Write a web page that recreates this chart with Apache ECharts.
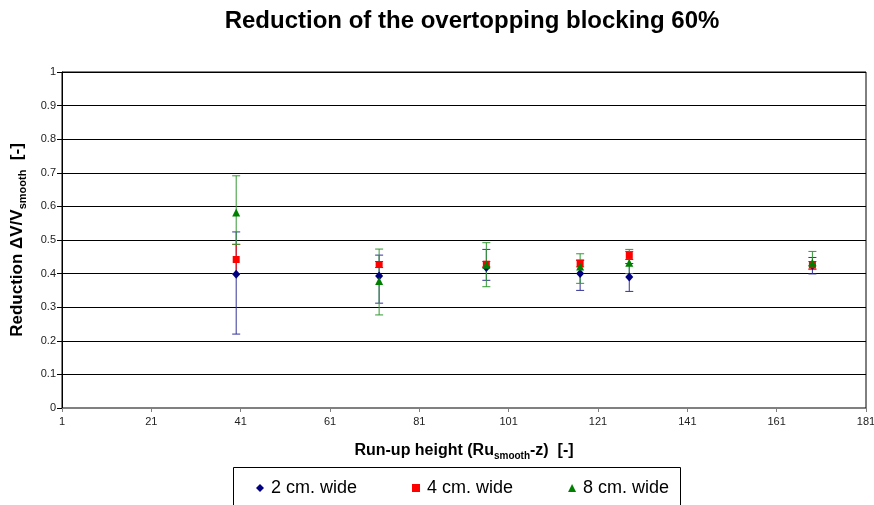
<!DOCTYPE html>
<html>
<head>
<meta charset="utf-8">
<script src="https://cdn.jsdelivr.net/npm/echarts@6/dist/echarts.min.js"></script>
<style>
  html, body { margin: 0; padding: 0; background: #fff; }
  #chart { width: 874px; height: 505px; }
</style>
</head>
<body>
<div id="chart"></div>
<script>
// Run-up heights at which the reductions were measured
const runUp = [40, 72, 96, 117, 128, 169];

// 2 cm. wide: mean reduction and error-bar range
const wide2 = [0.398, 0.393, 0.418, 0.400, 0.390, 0.424];
const wide2Low = [0.220, 0.312, 0.380, 0.350, 0.347, 0.399];
const wide2High = [0.524, 0.455, 0.472, 0.440, 0.430, 0.448];

// 4 cm. wide
const wide4 = [0.442, 0.427, 0.428, 0.430, 0.454, 0.426];
const wide4Low = [0.400, 0.418, 0.420, 0.420, 0.442, 0.414];
const wide4High = [0.487, 0.436, 0.436, 0.440, 0.466, 0.436];

// 8 cm. wide
const wide8 = [0.582, 0.378, 0.426, 0.421, 0.432, 0.432];
const wide8Low = [0.487, 0.277, 0.361, 0.371, 0.400, 0.412];
const wide8High = [0.691, 0.473, 0.492, 0.459, 0.472, 0.466];

const seriesNames = ['2 cm. wide', '4 cm. wide', '8 cm. wide'];
const xTicks = [1, 21, 41, 61, 81, 101, 121, 141, 161, 181];

const FONT = '"Liberation Sans", Arial, sans-serif';

function errorBarSeries(name, low, high, color) {
  return {
    type: 'custom',
    name: name,
    z: 2,
    silent: true,
    data: runUp.map((x, i) => [x, low[i], high[i]]),
    renderItem: function (params, api) {
      const p0 = api.coord([api.value(0), api.value(1)]);
      const p1 = api.coord([api.value(0), api.value(2)]);
      const cap = 4;
      const style = { stroke: color, lineWidth: 1 };
      return {
        type: 'group',
        children: [
          { type: 'line', shape: { x1: p0[0], y1: p0[1], x2: p1[0], y2: p1[1] }, style: style },
          { type: 'line', shape: { x1: p0[0] - cap, y1: p0[1], x2: p0[0] + cap, y2: p0[1] }, style: style },
          { type: 'line', shape: { x1: p1[0] - cap, y1: p1[1], x2: p1[0] + cap, y2: p1[1] }, style: style }
        ]
      };
    }
  };
}

function pointSeries(name, values, symbol, size, color) {
  return {
    type: 'scatter',
    name: name,
    z: 3,
    symbol: symbol,
    symbolSize: size,
    itemStyle: { color: color, opacity: 1 },
    data: runUp.map((x, i) => [x, values[i]])
  };
}

const chart = echarts.init(document.getElementById('chart'), null, { renderer: 'canvas' });

chart.setOption({
  animation: false,
  backgroundColor: '#fff',
  textStyle: { fontFamily: FONT },
  grid: {
    left: 62, right: 8, top: 72, bottom: 97,
    outerBoundsMode: 'none', containLabel: false,
    show: true, borderColor: '#000', borderWidth: 1, backgroundColor: 'transparent'
  },
  graphic: [
    {
      type: 'text', x: 472, y: 9, z: 10,
      style: {
        text: 'Reduction of the overtopping blocking 60%',
        font: 'bold 24px ' + FONT, fill: '#000', textAlign: 'center', textVerticalAlign: 'top'
      }
    },
    {
      type: 'rect', z: 0,
      shape: { x: 233.5, y: 467.5, width: 447, height: 60 },
      style: { fill: '#fff', stroke: '#000', lineWidth: 1 }
    }
  ],
  legend: {
    data: [
      { name: seriesNames[0], icon: 'diamond' },
      { name: seriesNames[1], icon: 'rect' },
      { name: seriesNames[2], icon: 'triangle' }
    ],
    left: 256, top: 479, z: 5, padding: 0,
    itemWidth: 8, itemHeight: 8, itemGap: 55,
    textStyle: { fontFamily: FONT, fontSize: 18, color: '#000', padding: [0, 0, 0, 2] }
  },
  xAxis: {
    type: 'value', min: 1, max: 181,
    axisLine: { onZero: false, lineStyle: { color: '#808080', width: 1 } },
    axisTick: { customValues: xTicks, length: 4, lineStyle: { color: '#808080' } },
    axisLabel: { customValues: xTicks, color: '#222', fontSize: 11, margin: 8, fontFamily: FONT },
    splitLine: { show: false },
    name: '{m|Run-up height (Ru}{s|smooth}{m|-z)  [-]}',
    nameLocation: 'middle', nameGap: 33,
    nameTextStyle: {
      rich: {
        m: { fontFamily: FONT, fontWeight: 'bold', fontSize: 16, color: '#000', lineHeight: 18, verticalAlign: 'bottom' },
        s: { fontFamily: FONT, fontWeight: 'bold', fontSize: 10, color: '#000', lineHeight: 18, verticalAlign: 'bottom', padding: [0, 0, -2, 0] }
      }
    }
  },
  yAxis: {
    type: 'value', min: 0, max: 1, interval: 0.1,
    axisLine: { show: true, lineStyle: { color: '#000', width: 1 } },
    axisTick: { show: true, length: 5, lineStyle: { color: '#000' } },
    axisLabel: { color: '#222', fontSize: 11, margin: 6, fontFamily: FONT },
    splitLine: { show: true, lineStyle: { color: '#000', width: 1 } },
    name: '{m|Reduction \u0394V/V}{s|smooth}{m|  [-]}',
    nameLocation: 'middle', nameGap: 36, nameRotate: 90,
    nameTextStyle: {
      rich: {
        m: { fontFamily: FONT, fontWeight: 'bold', fontSize: 17, color: '#000', lineHeight: 20, verticalAlign: 'bottom' },
        s: { fontFamily: FONT, fontWeight: 'bold', fontSize: 11, color: '#000', lineHeight: 20, verticalAlign: 'bottom', padding: [0, 0, -2, 0] }
      }
    }
  },
  series: [
    errorBarSeries('err2', wide2Low, wide2High, '#333399'),
    errorBarSeries('err4', wide4Low, wide4High, '#ff0000'),
    errorBarSeries('err8', wide8Low, wide8High, '#339933'),
    pointSeries(seriesNames[0], wide2, 'diamond', [8, 9], '#000080'),
    pointSeries(seriesNames[1], wide4, 'rect', 7, '#ff0000'),
    pointSeries(seriesNames[2], wide8, 'triangle', 8, '#008000')
  ]
});
</script>
</body>
</html>
